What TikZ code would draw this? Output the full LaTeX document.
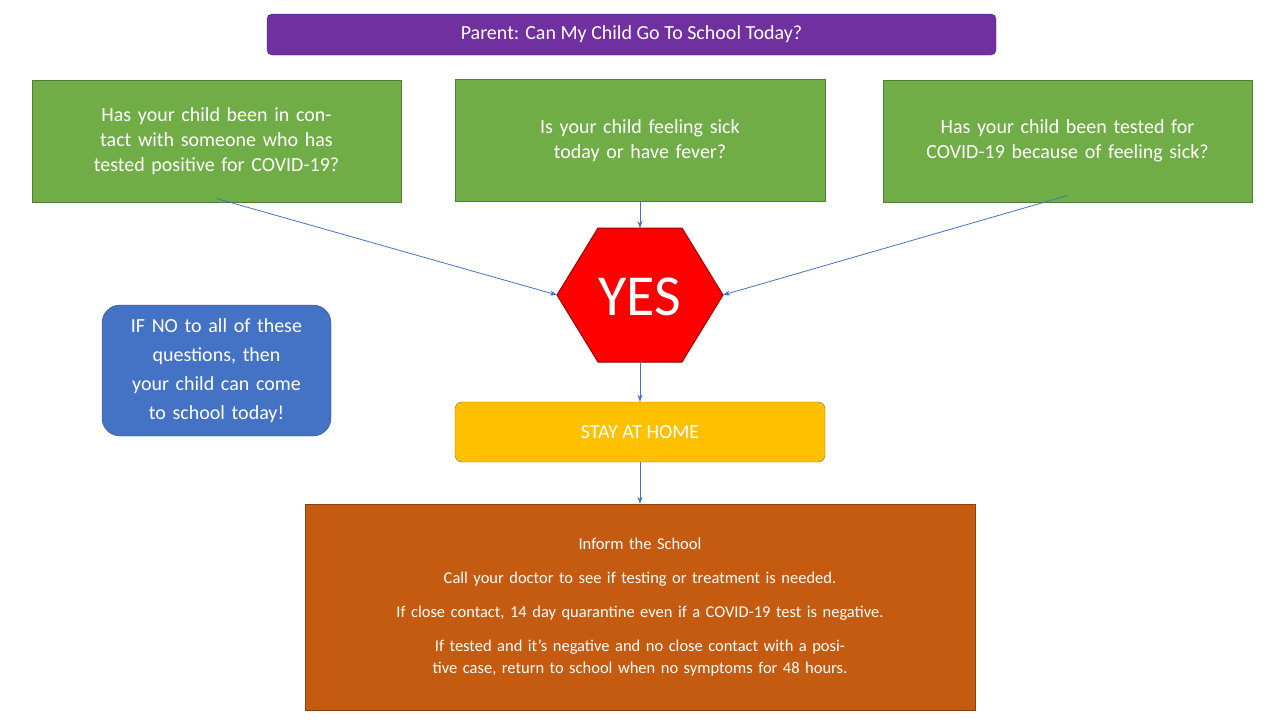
\documentclass[tikz,border=0pt]{standalone}
\usepackage{fontspec}
\setmainfont{Carlito}
\usetikzlibrary{arrows.meta}
\definecolor{purp}{HTML}{7030A0}
\definecolor{grn}{HTML}{70AD47}
\definecolor{grnd}{HTML}{507E32}
\definecolor{blu}{HTML}{4472C4}
\definecolor{yel}{HTML}{FFC000}
\definecolor{org}{HTML}{C55A11}
\begin{document}
\begin{tikzpicture}[x=1pt,y=-1pt,
  gbox/.style={draw=grnd,fill=grn,line width=1pt,text=white,font=\fontsize{20}{25}\selectfont,align=center,minimum width=369pt,minimum height=122pt,inner sep=6pt,text width=350pt},
  arr/.style={draw=blu,line width=0.8pt,-{Stealth[length=7pt,width=5pt]}}]
\useasboundingbox (0,0) rectangle (1280,720);
\fill[white] (0,0) rectangle (1280,720);
\node[draw=purp!70!black,fill=purp,rounded corners=5pt,minimum width=729pt,minimum height=41pt,text=white,font=\fontsize{20}{24}\selectfont] (title) at (631.5,34.5) {Parent: Can My Child Go To School Today?};
\node[gbox] (g1) at (216.5,141) {Has your child been in contact with someone who has tested positive for COVID-19?};
\node[gbox,minimum width=370pt] (g2) at (640,140.5) {Is your child feeling sick today or have fever?};
\node[gbox] (g3) at (1067.5,141) {Has your child been tested for COVID-19 because of feeling sick?};
\coordinate (hl) at (557,295);
\coordinate (hr) at (723,295);
\coordinate (ht) at (640,228);
\coordinate (hb) at (640,362);
\draw[fill=red,draw=red!60!black,line width=1pt] (557,295) -- (598,228) -- (682,228) -- (723,295) -- (682,362) -- (598,362) -- cycle;
\node[text=white,font=\fontsize{58}{60}\selectfont] (yes) at (640,297) {YES};
\node[draw=blu!70!black,fill=blu,rounded corners=18pt,minimum width=229pt,minimum height=131pt,text width=215pt,align=center,text=white,font=\fontsize{20}{29}\selectfont] (no) at (216.5,370.5) {IF NO to all of these questions, then your child can come to school today!};
\node[draw=yel!60!black,fill=yel,rounded corners=7pt,minimum width=370pt,minimum height=60pt,text=white,font=\fontsize{20}{24}\selectfont] (stay) at (640,432) {STAY AT HOME};
\node[draw=org!70!black,fill=org,minimum width=670pt,minimum height=206pt,text width=650pt,align=center,text=white,font=\fontsize{16.5}{22}\selectfont] (inf) at (640,607) {Inform the School\\[12pt]Call your doctor to see if testing or treatment is needed.\\[12pt]If close contact, 14 day quarantine even if a COVID-19 test is negative.\\[12pt]If tested and it’s negative and no close contact with a positive case, return to school when no symptoms for 48 hours.};
\draw[arr] ([yshift=4pt]g1.south) -- (hl);
\draw[arr] (g2.south) -- (ht);
\draw[arr] ([yshift=7pt]g3.south) -- (hr);
\draw[arr] (hb) -- (stay.north);
\draw[arr] (stay.south) -- (inf.north);
\end{tikzpicture}
\end{document}
